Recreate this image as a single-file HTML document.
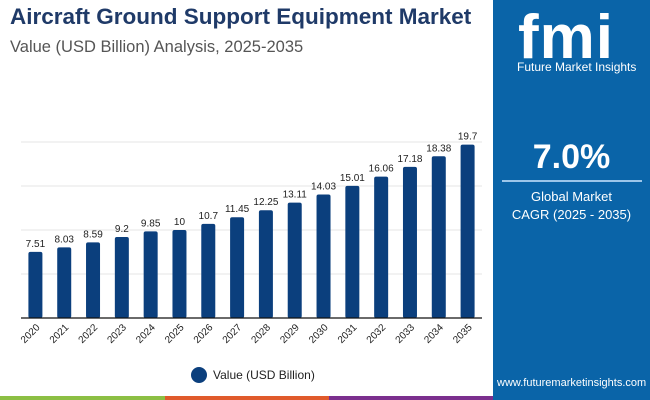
<!DOCTYPE html>
<html><head><meta charset="utf-8"><style>
body{margin:0;width:650px;height:400px;overflow:hidden;background:#fff;font-family:"Liberation Sans",sans-serif;position:relative}
.t{position:absolute;white-space:nowrap}
</style></head><body>
<div class="t" style="left:10px;top:4px;font-size:22.5px;font-weight:bold;color:#1f3a68">Aircraft Ground Support Equipment Market</div>
<div class="t" style="left:10px;top:38px;font-size:16.5px;color:#555">Value (USD Billion) Analysis, 2025-2035</div>
<div style="position:absolute;left:493px;top:0;width:157px;height:400px;background:#0a64a8"></div>
<div class="t" style="left:518px;top:2px;font-size:62px;font-weight:bold;color:#fff;letter-spacing:1px">fmi</div>
<div class="t" style="left:517px;top:60px;font-size:12px;color:#fff">Future Market Insights</div>
<div class="t" style="left:493px;width:157px;text-align:center;top:138px;font-size:34px;font-weight:bold;color:#fff">7.0%</div>
<div style="position:absolute;left:502px;top:180px;width:140px;height:2px;background:#9cc6ea"></div>
<div class="t" style="left:493px;width:157px;text-align:center;top:188px;font-size:13px;line-height:18px;color:#fff">Global Market<br>CAGR (2025 - 2035)</div>
<div class="t" style="left:497px;top:377px;font-size:11px;color:#fff">www.futuremarketinsights.com</div>
<div style="position:absolute;left:0;top:396px;width:165px;height:4px;background:#8cbf44"></div>
<div style="position:absolute;left:165px;top:396px;width:164px;height:4px;background:#e05a2b"></div>
<div style="position:absolute;left:329px;top:396px;width:164px;height:4px;background:#7b2f8e"></div>
<svg id="c" width="493" height="396" style="position:absolute;left:0;top:0" font-family="Liberation Sans, sans-serif"></svg>
<script>
const categories=["2020","2021","2022","2023","2024","2025","2026","2027","2028","2029","2030","2031","2032","2033","2034","2035"];
const values=[7.51,8.03,8.59,9.2,9.85,10,10.7,11.45,12.25,13.11,14.03,15.01,16.06,17.18,18.38,19.7];
const labels=["7.51","8.03","8.59","9.2","9.85","10","10.7","11.45","12.25","13.11","14.03","15.01","16.06","17.18","18.38","19.7"];
const gridTicks=[5,10,15,20];
const svg=document.getElementById('c');const NS='http://www.w3.org/2000/svg';
const y0=318,ppu=8.8,x0=21,x1=482,step=(x1-x0)/categories.length;
const y=v=>y0-v*ppu, x=i=>x0+step*(i+0.5);
function mk(t,a){const e=document.createElementNS(NS,t);for(const k in a)e.setAttribute(k,a[k]);svg.appendChild(e);return e;}
gridTicks.forEach(g=>{const l=mk('line',{x1:x0,x2:x1,y1:y(g),y2:y(g),stroke:'#e6e6e6','stroke-width':1});

});
values.forEach((v,i)=>{
const r=mk('rect',{x:x(i)-7,y:y(v),width:14,height:y0-y(v),fill:'#0b3f7d',rx:2});


const t=mk('text',{x:x(i),y:y(v)-5,'text-anchor':'middle','font-size':10,fill:'#222'});t.textContent=labels[i];


const c=mk('text',{x:x(i)+5,y:y0+10,'text-anchor':'end','font-size':10,fill:'#222',transform:`rotate(-45 ${x(i)+5} ${y0+10})`});c.textContent=categories[i];

});
const ax=mk('line',{x1:x0,x2:x1,y1:y0,y2:y0,stroke:'#111','stroke-width':1.2});


const lc=mk('circle',{cx:199,cy:375,r:8,fill:'#0b3f7d'});


const lt=mk('text',{x:213,y:379,'font-size':12,fill:'#222'});lt.textContent='Value (USD Billion)';


</script>
</body></html>
